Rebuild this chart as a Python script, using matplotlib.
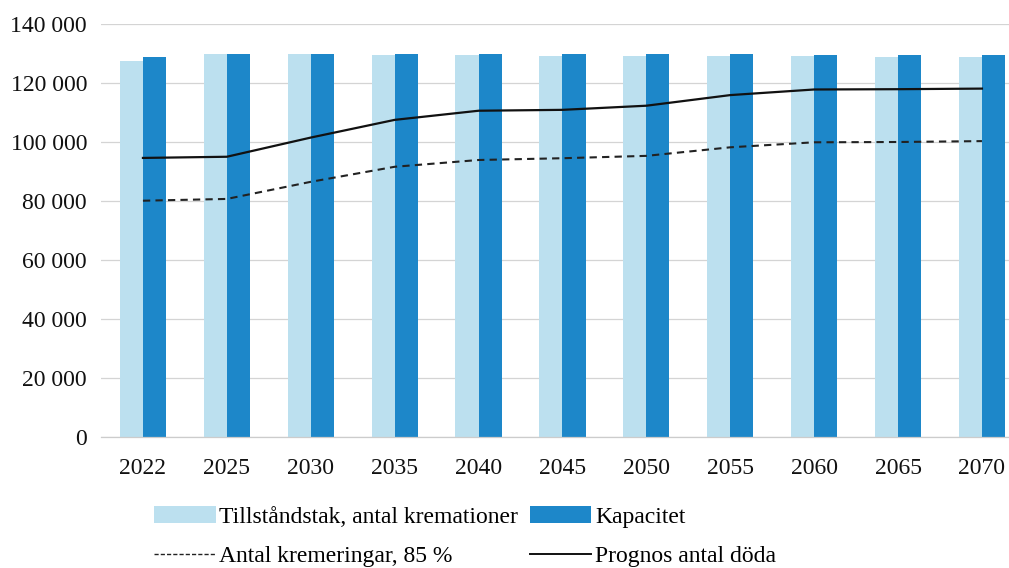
import matplotlib
matplotlib.use("Agg")
import matplotlib.pyplot as plt
import numpy as np
from matplotlib.patches import Patch
from matplotlib.lines import Line2D

years = ["2022", "2025", "2030", "2035", "2040", "2045", "2050", "2055", "2060", "2065", "2070"]
tillstandstak = [127300, 129700, 129700, 129500, 129400, 129300, 129200, 129100, 129000, 128900, 128900]
kapacitet = [128700, 130000, 130000, 130000, 129800, 129800, 129700, 129700, 129600, 129500, 129500]
kremeringar = [80100, 80700, 86500, 91600, 93900, 94500, 95300, 98200, 99900, 100000, 100300]
prognos = [94600, 95000, 101500, 107500, 110600, 110900, 112300, 115900, 117800, 117900, 118100]

plt.rcParams['font.family'] = ['Liberation Serif', 'DejaVu Serif']

W, H = 1009, 568
fig = plt.figure(figsize=(W / 100, H / 100), dpi=100)
ax = fig.add_axes([101 / W, (H - 437) / H, (W - 101) / W, (437 - 24) / H])

x = np.arange(len(years))
bw = 0.275
light = '#bce0ef'
dark = '#1d87c9'
ax.bar(x - bw / 2, tillstandstak, width=bw, color=light, zorder=2)
ax.bar(x + bw / 2, kapacitet, width=bw, color=dark, zorder=2)
ax.plot(x, kremeringar, color='#222222', lw=1.5, ls=(0, (3.5, 2.5)), zorder=3)
ax.plot(x, prognos, color='#111111', lw=1.6, zorder=3)

ax.set_xlim(-0.5, -0.5 + (W - 101) / 83.9)
ax.set_ylim(0, 140000)
ax.set_yticks(np.arange(0, 140001, 20000))
ax.set_yticklabels([f"{int(v):,}".replace(",", " ") for v in np.arange(0, 140001, 20000)])
ax.set_xticks(x)
ax.set_xticklabels(years)
ax.tick_params(axis='both', length=0, labelsize=17, colors='#111111')
ax.tick_params(axis='x', pad=15)
ax.tick_params(axis='y', pad=10)
ax.yaxis.grid(True, color='#d4d4d4', lw=0.9, zorder=0)
ax.set_axisbelow(True)
for s in ['top', 'right', 'left']:
    ax.spines[s].set_visible(False)
ax.spines['bottom'].set_color('#cccccc')
ax.spines['bottom'].set_linewidth(0.9)

handles = [
    Patch(facecolor=light, edgecolor='none'),
    Line2D([], [], color='#222222', lw=1.0, ls=(0, (3, 1.5))),
    Patch(facecolor=dark, edgecolor='none'),
    Line2D([], [], color='#111111', lw=1.4),
]
labels = ["Tillståndstak, antal kremationer", "Antal kremeringar, 85 %",
          "Kapacitet", "Prognos antal döda"]
fig.legend(handles, labels, ncol=2, frameon=False, fontsize=17,
           loc='lower left', bbox_to_anchor=(145 / W, -0.015),
           handlelength=2.6, handleheight=0.7, handletextpad=0.15,
           columnspacing=0.5, labelspacing=0.75, borderaxespad=0.0)

fig.savefig("out.png", dpi=100)
